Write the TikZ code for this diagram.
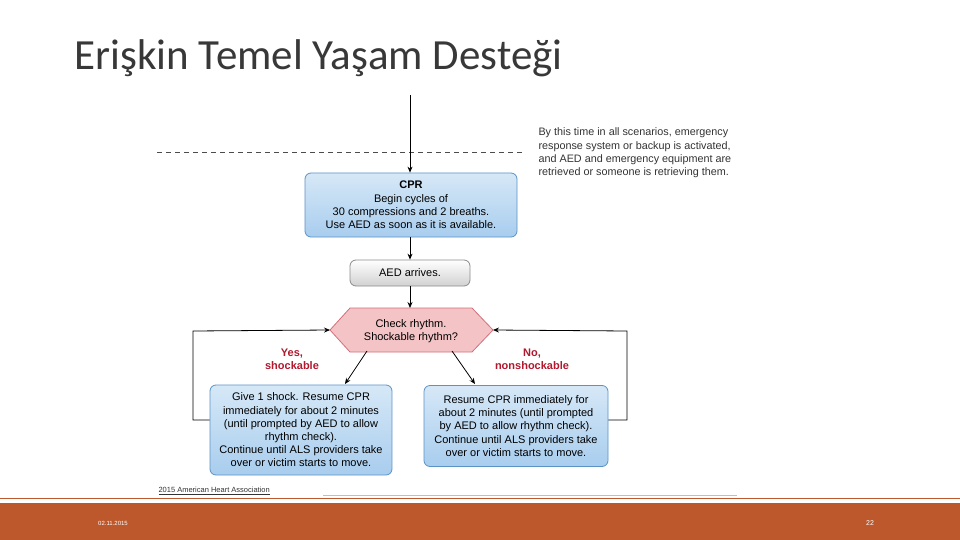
\documentclass[tikz,border=0pt]{standalone}
\usepackage{fontspec}
\setmainfont{Liberation Sans}
\newfontfamily\titlefont{Carlito}
\usetikzlibrary{arrows.meta}
\definecolor{bord}{HTML}{5B93C7}
\definecolor{bluetop}{HTML}{D6E8F7}
\definecolor{bluebot}{HTML}{A8CDEE}
\definecolor{pinkf}{HTML}{F4C3C6}
\definecolor{pinkd}{HTML}{D2707A}
\definecolor{redl}{HTML}{B0192E}
\definecolor{footer}{HTML}{BC582B}
\tikzset{
  bx/.style={draw=bord, line width=0.8pt, rounded corners=6pt, top color=bluetop, bottom color=bluebot, align=center, font=\fontsize{11}{13.2}\selectfont, inner sep=1pt},
  arr/.style={-{Stealth[length=6pt,width=5pt]}, line width=0.8pt},
  lab/.style={text=redl, font=\bfseries\fontsize{11}{13}\selectfont, align=center},
}
\begin{document}
\begin{tikzpicture}[x=1pt,y=-1pt]
\useasboundingbox (0,0) rectangle (960,540);
\fill[white] (0,0) rectangle (960,540);
\node[anchor=west, font=\titlefont\fontsize{43}{46}\selectfont, text=black!78] (title) at (71,58) {Erişkin Temel Yaşam Desteği};
% footer
\fill[footer] (0,503) rectangle (960,540);
\draw[footer, line width=1pt] (0,498) -- (960,498);
\node[text=white, font=\fontsize{6}{7}\selectfont] (date) at (113,523) {02.11.2015};
\node[text=white, font=\fontsize{7}{8}\selectfont] (pg) at (870,523) {22};
% nodes
\coordinate (top) at (410,95);
\node[bx, minimum width=212, minimum height=64] (cpr) at (411,205) {\textbf{CPR}\\Begin cycles of\\30 compressions and 2 breaths.\\Use AED as soon as it is available.};
\node[draw=black!45, line width=0.8pt, rounded corners=6pt, top color=white, bottom color=black!18, minimum width=120, minimum height=26, font=\fontsize{11}{12}\selectfont] (aed) at (410,273) {AED arrives.};
\path (330,330) coordinate (hl) (350,308) coordinate (h1) (472,308) coordinate (h2) (493,330) coordinate (hr) (472,352) coordinate (h3) (350,352) coordinate (h4);
\filldraw[fill=pinkf, draw=pinkd, line width=0.8pt] (hl) -- (h1) -- (h2) -- (hr) -- (h3) -- (h4) -- cycle;
\node[align=center, font=\fontsize{11}{13}\selectfont] (chk) at (411,331) {Check rhythm.\\Shockable rhythm?};
\node[bx, minimum width=182, minimum height=90] (lb) at (301,430) {Give 1 shock. Resume CPR\\immediately for about 2 minutes\\(until prompted by AED to allow\\rhythm check).\\Continue until ALS providers take\\over or victim starts to move.};
\node[bx, minimum width=184, minimum height=81] (rb) at (516,426) {Resume CPR immediately for\\about 2 minutes (until prompted\\by AED to allow rhythm check).\\Continue until ALS providers take\\over or victim starts to move.};
\node[lab] (yes) at (292,359) {Yes,\\shockable};
\node[lab] (no) at (532,359) {No,\\nonshockable};
\node[align=left, anchor=west, text=black!80, font=\fontsize{10.8}{13.2}\selectfont] (note) at (535,153) {By this time in all scenarios, emergency\\response system or backup is activated,\\and AED and emergency equipment are\\retrieved or someone is retrieving them.};
\draw[dashed, line width=0.8pt, dash pattern=on 5pt off 4pt, black!70] (157,152) -- (522,152);
\node[anchor=west, font=\fontsize{7.5}{8}\selectfont, text=black!80] (src) at (155,491) {\underline{2015 American Heart Association}};
\draw[black!25, line width=0.6pt] (323,495) -- (737,495);
% connectors
\draw[arr] (top) -- (cpr.north -| top);
\draw[arr] (cpr.south -| top) -- (aed.north -| top);
\draw[arr] (aed.south -| top) -- (410,308);
\draw[arr] (367,351) -- (345,384);
\draw[arr] (452,351) -- (475,384);
\draw[arr] (lb.west |- 0,420) -- (193,420) -- (193,331) -- (hl);
\draw[arr] (rb.east |- 0,420) -- (627,420) -- (627,331) -- (hr);
\end{tikzpicture}
\end{document}
